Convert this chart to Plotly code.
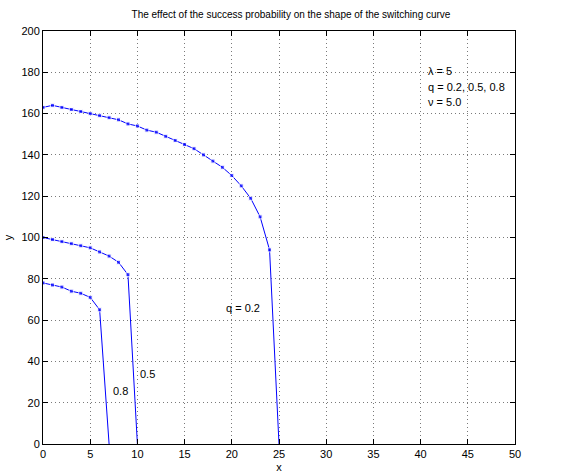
import plotly.graph_objects as go

# Data
x_02 = list(range(0, 26))
y_02 = [163, 164, 163, 162, 161, 160, 159, 158, 157, 155, 154, 152, 151, 149,
        147, 145, 143, 140, 137, 134, 130, 125, 119, 110, 94, 0]
x_05 = list(range(0, 11))
y_05 = [100, 99, 98, 97, 96, 95, 93, 91, 88, 82, 0]
x_08 = list(range(0, 8))
y_08 = [78, 77, 76, 74, 73, 71, 65, 0]

curve_labels = ["q = 0.2", "0.5", "0.8"]
curve_label_pos = [(19.2, 66), (10.1, 34), (7.2, 25.5)]
info_lines = ["λ = 5", "q = 0.2, 0.5, 0.8", "ν = 5.0"]
info_pos = [(40.6, 180.5), (40.6, 173.0), (40.6, 165.5)]

title = "The effect of the success probability on the shape of the switching curve"

FONT = "Liberation Sans, Arial, sans-serif"
BLUE = "#0000ff"

fig = go.Figure()
for xs, ys in [(x_02, y_02), (x_05, y_05), (x_08, y_08)]:
    sizes = [4] * (len(xs) - 1) + [0]
    fig.add_trace(go.Scatter(
        x=xs, y=ys, mode="lines+markers",
        line=dict(color=BLUE, width=1),
        marker=dict(color=BLUE, size=sizes, symbol="square"),
        showlegend=False, hoverinfo="skip",
    ))

annotations = []
for txt, (ax, ay) in zip(curve_labels + info_lines, curve_label_pos + info_pos):
    annotations.append(dict(x=ax, y=ay, text=txt, showarrow=False, xanchor="left",
                            yanchor="middle", font=dict(size=11, color="black", family=FONT)))

axis_common = dict(
    showline=True, linecolor="black", linewidth=1, mirror="ticks",
    ticks="inside", ticklen=5, tickcolor="black", tickwidth=1,
    showgrid=True, gridcolor="#7a7a7a", griddash="1px,3px", gridwidth=1,
    zeroline=False, tickfont=dict(size=11, color="black", family=FONT),
    automargin=False,
)

fig.update_layout(
    width=582, height=475,
    margin=dict(l=43, r=67, t=31, b=31),
    paper_bgcolor="white", plot_bgcolor="white",
    font=dict(family=FONT, size=11, color="black"),
    title=dict(text=title, x=0.5, xanchor="center", y=1 - 14 / 475, yanchor="middle",
               font=dict(size=10, color="black", family=FONT)),
    xaxis=dict(range=[0, 50], tickvals=list(range(0, 51, 5)),
               title=dict(text="x", standoff=4, font=dict(size=11)), **axis_common),
    yaxis=dict(range=[0, 200], tickvals=list(range(0, 201, 20)),
               title=dict(text="y", standoff=6, font=dict(size=11)), **axis_common),
    annotations=annotations,
)

fig.write_html("out.html")
